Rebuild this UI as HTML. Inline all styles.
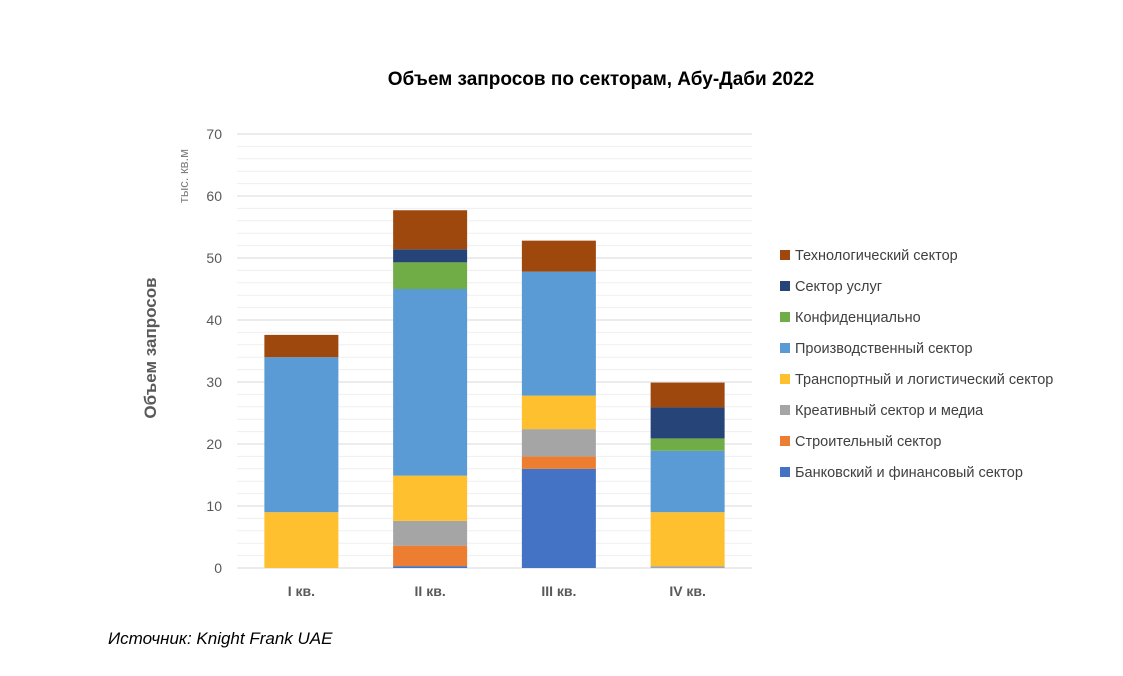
<!DOCTYPE html>
<html><head><meta charset="utf-8"><style>
body{margin:0;background:#fff;font-family:"Liberation Sans",Arial,sans-serif}
svg text{font-family:"Liberation Sans",Arial,sans-serif}
</style></head><body>
<svg id="c" width="1123" height="671" viewBox="0 0 1123 671">
<text x="601" y="85" text-anchor="middle" font-size="19" font-weight="bold" fill="#000">Объем запросов по секторам, Абу-Даби 2022</text>
<text transform="translate(156,348) rotate(-90)" text-anchor="middle" font-size="17" font-weight="bold" fill="#595959">Объем запросов</text>
<text transform="translate(188,176) rotate(-90)" text-anchor="middle" font-size="13" fill="#7f7f7f">тыс. кв.м</text>
<g id="grid"></g><g id="bars"></g><g id="legend"></g>
<text x="108" y="644" font-size="17" font-style="italic" fill="#000">Источник: Knight Frank UAE</text>
</svg>
<script>
const categories=["I кв.","II кв.","III кв.","IV кв."];
const seriesNames=["Банковский и финансовый сектор","Строительный сектор","Креативный сектор и медиа","Транспортный и логистический сектор","Производственный сектор","Конфиденциально","Сектор услуг","Технологический сектор"];
const bank=[0,0.3,16,0];
const construction=[0,3.3,2,0];
const creative=[0,4,4.4,0.3];
const transport=[9,7.3,5.4,8.7];
const production=[25,30.1,20,9.9];
const confidential=[0,4.3,0,2];
const services=[0,2.1,0,5];
const tech=[3.6,6.3,5,4];
const yTicks=[0,10,20,30,40,50,60,70];
const colors=["#4472c4","#ed7d31","#a5a5a5","#ffc02f","#5b9bd5","#70ad47","#264478","#9e480e"];
const series=[bank,construction,creative,transport,production,confidential,services,tech];
const NS="http://www.w3.org/2000/svg";
const x0=237,x1=752,yB=568,yT=134,yMax=70;
const y=v=>yB-(v/yMax)*(yB-yT);
const bw=(x1-x0)/categories.length;
const xc=i=>x0+bw*(i+0.5);
function mk(t,a,p){const e=document.createElementNS(NS,t);for(const k in a)e.setAttribute(k,a[k]);p.appendChild(e);return e;}
const grid=document.getElementById('grid');
for(let v=0;v<=yMax;v+=2){
 const l=mk('line',{x1:x0,x2:x1,y1:y(v),y2:y(v),stroke:v%10===0?'#d9d9d9':'#efefef','stroke-width':1},grid);
 
 
}
yTicks.forEach(v=>{
 const t=mk('text',{x:222,y:y(v)+5,'text-anchor':'end','font-size':14,fill:'#595959'},grid);
 t.textContent=v;
 
 
});
const bars=document.getElementById('bars');
categories.forEach((c,i)=>{
 let acc=0;
 series.forEach((s,k)=>{
  const v=s[i];if(v<=0)return;
  const r=mk('rect',{x:xc(i)-37,y:y(acc+v),width:74,height:y(acc)-y(acc+v),fill:colors[k]},bars);
  
  
  acc+=v;
 });
 const t=mk('text',{x:xc(i),y:596,'text-anchor':'middle','font-size':14,'font-weight':'bold',fill:'#595959'},bars);
 t.textContent=c;
 
 
});
const lg=document.getElementById('legend');
for(let k=seriesNames.length-1,j=0;k>=0;k--,j++){
 const yy=255+j*31;
 const r=mk('rect',{x:780,y:yy-5,width:10,height:10,fill:colors[k]},lg);
 
 
 const t=mk('text',{x:795,y:yy+5,'font-size':14.5,fill:'#404040'},lg);
 t.textContent=seriesNames[k];
 
 
}
</script>
</body></html>
